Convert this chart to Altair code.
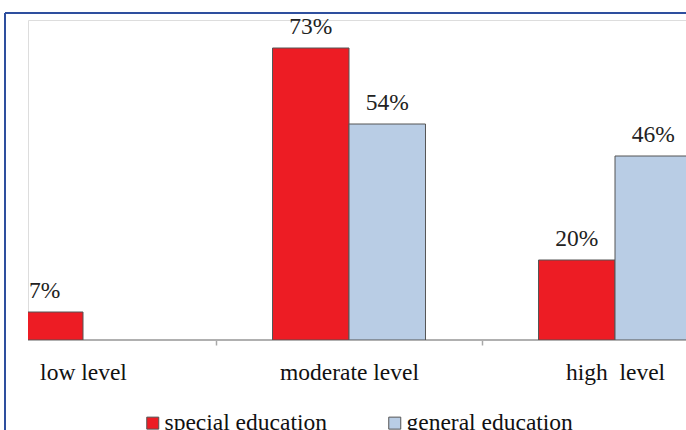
import altair as alt
import pandas as pd

categories = ["low level", "moderate level", "high\u00a0 level"]
series = ["special education", "general education"]
special = [7, 73, 20]
general = [0, 54, 46]

rows = []
for c, s, g in zip(categories, special, general):
    rows.append({"level": c, "group": series[0], "value": s, "label": f"{s}%"})
    rows.append({"level": c, "group": series[1], "value": g, "label": f"{g}%"})
df = pd.DataFrame(rows)

FONT = "Liberation Serif"
FS = 23.5
W, H = 658, 320

x_enc = alt.X("level:N", sort=categories,
              scale=alt.Scale(domain=categories, range=[-78, 720], paddingInner=0, paddingOuter=0),
              axis=alt.Axis(title=None, domain=False, ticks=True, tickBand="extent", tickSize=5,
                            tickWidth=1.5, tickColor="#a8a8a8", labelAngle=0, labelFont=FONT,
                            labelFontSize=FS, labelColor="#111111", labelPadding=34,
                            labelBaseline="alphabetic", labelLimit=0, labelOverlap=False,
                            labelFlush=False))
xo_enc = alt.XOffset("group:N", sort=series,
                     scale=alt.Scale(domain=series, paddingInner=0, paddingOuter=0.7386))
y_enc = alt.Y("value:Q", scale=alt.Scale(domain=[0, 80], nice=False, zero=True), axis=None)

base = alt.Chart(df).transform_filter(alt.datum.value > 0)

bars = base.mark_bar(stroke="#555555", strokeWidth=1, clip=True).encode(
    x=x_enc, xOffset=xo_enc, y=y_enc,
    fill=alt.Fill("group:N", sort=series,
                  scale=alt.Scale(domain=series, range=["#ED1C24", "#B9CDE5"]),
                  legend=alt.Legend(title=None, orient="none", direction="horizontal",
                                    legendX=113, legendY=391, padding=0, columnPadding=56,
                                    symbolType="square", symbolSize=144,
                                    symbolStrokeColor="#555555", symbolStrokeWidth=1,
                                    labelFont=FONT, labelFontSize=FS, labelColor="#111111",
                                    labelOffset=0, labelLimit=0)),
)

labels = base.mark_text(font=FONT, fontSize=FS, color="#222222", baseline="alphabetic",
                        dy=-14).encode(
    x=x_enc, xOffset=xo_enc, y=y_enc, text="label:N")

one = alt.Chart(pd.DataFrame({"k": [0]}))
baseline = one.mark_rule(color="#b0b0b0", strokeWidth=2).encode(
    x=alt.value(0), x2=alt.value(W), y=alt.value(H))
frame_top = one.mark_rule(color="#2E4F9E", strokeWidth=2).encode(
    x=alt.value(-23), x2=alt.value(W + 5), y=alt.value(-7))
frame_left = one.mark_rule(color="#2E4F9E", strokeWidth=2).encode(
    x=alt.value(-23), y=alt.value(-7), y2=alt.value(H + 100))

chart = alt.layer(baseline, bars, labels, frame_top, frame_left).properties(
    width=W, height=H,
    autosize=alt.AutoSizeParams(type="none"),
    padding={"left": 28, "top": 20, "right": 0, "bottom": 90},
).configure_view(stroke=None).configure(background="white")

chart.save("out.html", embed_options={"renderer": "svg", "actions": False})
